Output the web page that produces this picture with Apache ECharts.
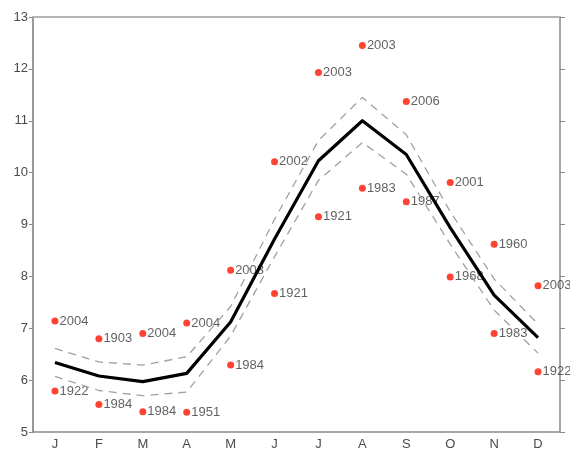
<!DOCTYPE html>
<html>
<head>
<meta charset="utf-8">
<script src="https://cdn.jsdelivr.net/npm/echarts@6/dist/echarts.min.js"></script>
<style>
  html, body { margin: 0; padding: 0; background: #fff; }
  #chart { width: 570px; height: 457px; }
</style>
</head>
<body>
<div id="chart"></div>
<script>
// Monthly mean temperature with its confidence band and record extremes
const months = ['J', 'F', 'M', 'A', 'M', 'J', 'J', 'A', 'S', 'O', 'N', 'D'];
const meanTemp = [6.34, 6.08, 5.97, 6.13, 7.12, 8.72, 10.23, 11.0, 10.35, 8.94, 7.64, 6.82];
const upperBand = [6.61, 6.35, 6.29, 6.45, 7.42, 9.1, 10.62, 11.45, 10.73, 9.25, 7.95, 7.08];
const lowerBand = [6.07, 5.8, 5.7, 5.77, 6.85, 8.38, 9.85, 10.58, 9.97, 8.62, 7.35, 6.52];
const highVals = [7.14, 6.8, 6.9, 7.1, 8.12, 10.21, 11.93, 12.45, 11.37, 9.81, 8.62, 7.82];
const highYears = ['2004', '1903', '2004', '2004', '2003', '2002', '2003', '2003', '2006', '2001', '1960', '2003'];
const lowVals = [5.79, 5.53, 5.39, 5.38, 6.29, 7.67, 9.15, 9.7, 9.44, 7.99, 6.9, 6.16];
const lowYears = ['1922', '1984', '1984', '1951', '1984', '1921', '1921', '1983', '1987', '1968', '1983', '1922'];
const yTicks = [5, 6, 7, 8, 9, 10, 11, 12, 13];

const axisGray = '#8a8a8a';
const textGray = '#4a4a4a';
const font = 'Liberation Sans, Arial, sans-serif';

function pointsFrom(vals, years) {
  return vals.map((v, i) => [i, v, years[i]]);
}

const extremeStyle = {
  type: 'scatter',
  symbol: 'circle',
  symbolSize: 7,
  itemStyle: { color: '#ff1500' },
  z: 1,
  label: {
    show: true,
    position: 'right',
    distance: 1,
    formatter: p => p.value[2],
    color: '#3a3a3a',
    fontFamily: font,
    fontSize: 13
  }
};

const chart = echarts.init(document.getElementById('chart'), null, { renderer: 'canvas' });
chart.setOption({
  animation: false,
  backgroundColor: '#fff',
  grid: { left: 33, right: 10, top: 17, bottom: 25, containLabel: false },
  xAxis: [
    {
      type: 'category',
      data: months,
      boundaryGap: true,
      position: 'bottom',
      axisLine: { lineStyle: { color: axisGray, width: 1.5 } },
      axisTick: { alignWithLabel: true, length: 4, lineStyle: { color: axisGray } },
      axisLabel: { color: textGray, fontSize: 13, margin: 6, fontFamily: font },
      splitLine: { show: false }
    },
    {
      type: 'category',
      data: months,
      boundaryGap: true,
      position: 'top',
      axisLine: { lineStyle: { color: '#b5b5b5', width: 2 } },
      axisTick: { alignWithLabel: true, length: 4, lineStyle: { color: axisGray } },
      axisLabel: { show: false },
      splitLine: { show: false }
    }
  ],
  yAxis: [
    {
      type: 'value',
      min: 5,
      max: 13,
      interval: 1,
      position: 'left',
      axisLine: { show: true, lineStyle: { color: '#777', width: 1.5 } },
      axisTick: { show: true, length: 4, lineStyle: { color: axisGray } },
      axisLabel: {
        color: textGray, fontSize: 13, margin: 5, fontFamily: font,
        formatter: v => (yTicks.includes(v) ? String(v) : '')
      },
      splitLine: { show: false }
    },
    {
      type: 'value',
      min: 5,
      max: 13,
      interval: 1,
      position: 'right',
      axisLine: { show: true, lineStyle: { color: axisGray, width: 1.5 } },
      axisTick: { show: true, length: 5, lineStyle: { color: axisGray } },
      axisLabel: { show: false },
      splitLine: { show: false }
    }
  ],
  series: [
    Object.assign({}, extremeStyle, { name: 'Record high', data: pointsFrom(highVals, highYears) }),
    Object.assign({}, extremeStyle, { name: 'Record low', data: pointsFrom(lowVals, lowYears) }),
    {
      name: 'Upper bound',
      type: 'line',
      data: upperBand,
      symbol: 'none',
      z: 5,
      lineStyle: { color: '#a0a0a0', width: 1.3, type: [8, 6] }
    },
    {
      name: 'Lower bound',
      type: 'line',
      data: lowerBand,
      symbol: 'none',
      z: 5,
      lineStyle: { color: '#a0a0a0', width: 1.3, type: [8, 6] }
    },
    {
      name: 'Mean',
      type: 'line',
      data: meanTemp,
      symbol: 'none',
      z: 6,
      lineStyle: { color: '#000', width: 3.2, join: 'round' }
    }
  ]
});
</script>
</body>
</html>
